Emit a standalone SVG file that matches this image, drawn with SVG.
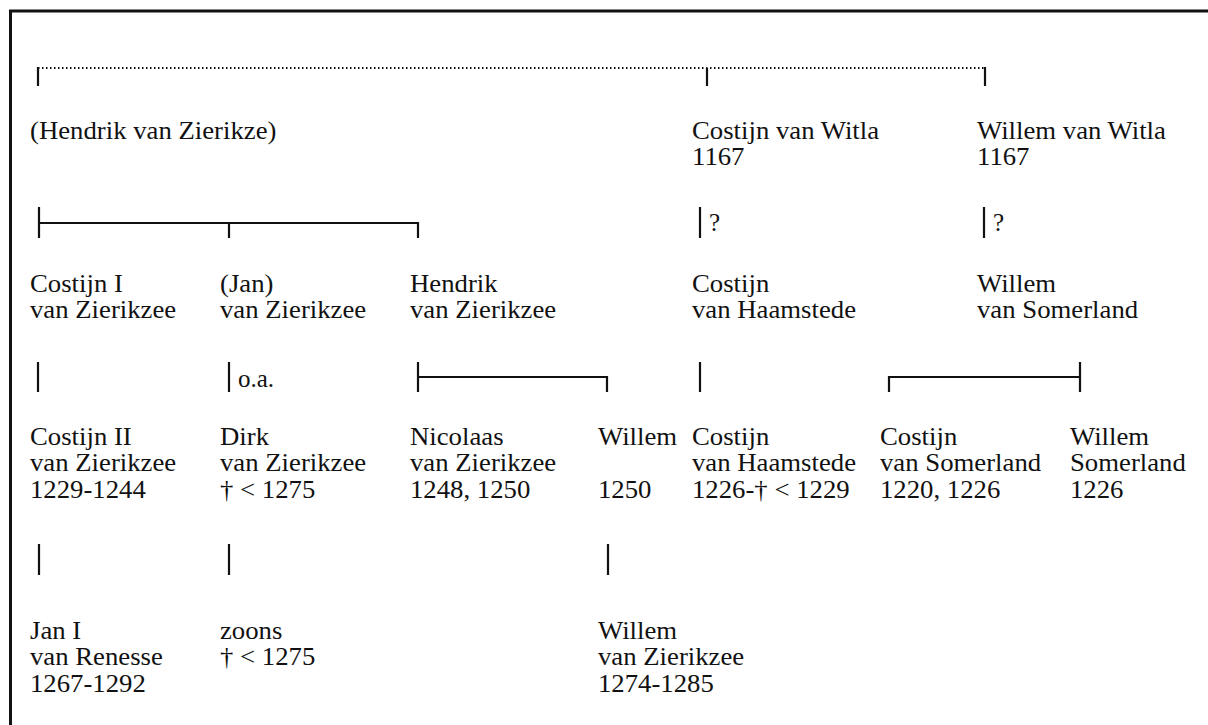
<svg xmlns="http://www.w3.org/2000/svg" width="1208" height="725" viewBox="0 0 1208 725">
<style>
text{font-family:"Liberation Serif","Times New Roman",serif;font-size:25px;fill:#111}
.ln{stroke:#111;stroke-width:2.2;fill:none}
.dot{stroke:#111;stroke-width:2;fill:none;stroke-dasharray:1.5 2.5}
</style>
<rect width="1208" height="725" fill="#fff"/>
<path d="M10.5,726 V11 H1210" fill="none" stroke="#111" stroke-width="3"/>
<g id="connectors">
<path class="dot" d="M38,68 H985"/>
<path class="ln" d="M38,67 V86 M707,68 V86 M985,67 V86"/>
<path class="ln" d="M39,207 V238 M39,223 H418 V238 M229,223 V238"/>
<path class="ln" d="M700,207 V238 M984,207 V238"/>
<text x="709" y="231">?</text>
<text x="993" y="231">?</text>
<path class="ln" d="M38,362 V392 M229,362 V392 M418,362 V392 M418,377 H607 V392"/>
<text x="238" y="387">o.a.</text>
<path class="ln" d="M700,362 V392 M889,392 V377 H1080 M1080,362 V392"/>
<path class="ln" d="M39,544 V575 M229,544 V575 M608,544 V575"/>
</g>
<g id="n_hendrik_root" transform="translate(30,139) scale(1.07,1)"><text>(Hendrik van Zierikze)</text></g>
<g id="n_costijn_witla" transform="translate(692,139) scale(1.07,1)"><text>Costijn van Witla</text><text y="26.5">1167</text></g>
<g id="n_willem_witla" transform="translate(977,139) scale(1.07,1)"><text>Willem van Witla</text><text y="26.5">1167</text></g>
<g id="n_costijn1" transform="translate(30,292) scale(1.07,1)"><text>Costijn I</text><text y="26.5">van Zierikzee</text></g>
<g id="n_jan" transform="translate(220,292) scale(1.07,1)"><text>(Jan)</text><text y="26.5">van Zierikzee</text></g>
<g id="n_hendrik" transform="translate(410,292) scale(1.07,1)"><text>Hendrik</text><text y="26.5">van Zierikzee</text></g>
<g id="n_costijn_haamstede1" transform="translate(692,292) scale(1.07,1)"><text>Costijn</text><text y="26.5">van Haamstede</text></g>
<g id="n_willem_somerland1" transform="translate(977,292) scale(1.07,1)"><text>Willem</text><text y="26.5">van Somerland</text></g>
<g id="n_costijn2" transform="translate(30,445) scale(1.07,1)"><text>Costijn II</text><text y="26.5">van Zierikzee</text><text y="53">1229-1244</text></g>
<g id="n_dirk" transform="translate(220,445) scale(1.07,1)"><text>Dirk</text><text y="26.5">van Zierikzee</text><text y="53">† &lt; 1275</text></g>
<g id="n_nicolaas" transform="translate(410,445) scale(1.07,1)"><text>Nicolaas</text><text y="26.5">van Zierikzee</text><text y="53">1248, 1250</text></g>
<g id="n_willem1250" transform="translate(598,445) scale(1.07,1)"><text>Willem</text><text y="53">1250</text></g>
<g id="n_costijn_haamstede2" transform="translate(692,445) scale(1.07,1)"><text>Costijn</text><text y="26.5">van Haamstede</text><text y="53">1226-† &lt; 1229</text></g>
<g id="n_costijn_somerland" transform="translate(880,445) scale(1.07,1)"><text>Costijn</text><text y="26.5">van Somerland</text><text y="53">1220, 1226</text></g>
<g id="n_willem_somerland2" transform="translate(1070,445) scale(1.07,1)"><text>Willem</text><text y="26.5">Somerland</text><text y="53">1226</text></g>
<g id="n_jan_renesse" transform="translate(30,639) scale(1.07,1)"><text>Jan I</text><text y="26.5">van Renesse</text><text y="53">1267-1292</text></g>
<g id="n_zoons" transform="translate(220,639) scale(1.07,1)"><text>zoons</text><text y="26.5">† &lt; 1275</text></g>
<g id="n_willem_zierikzee" transform="translate(598,639) scale(1.07,1)"><text>Willem</text><text y="26.5">van Zierikzee</text><text y="53">1274-1285</text></g>
</svg>
